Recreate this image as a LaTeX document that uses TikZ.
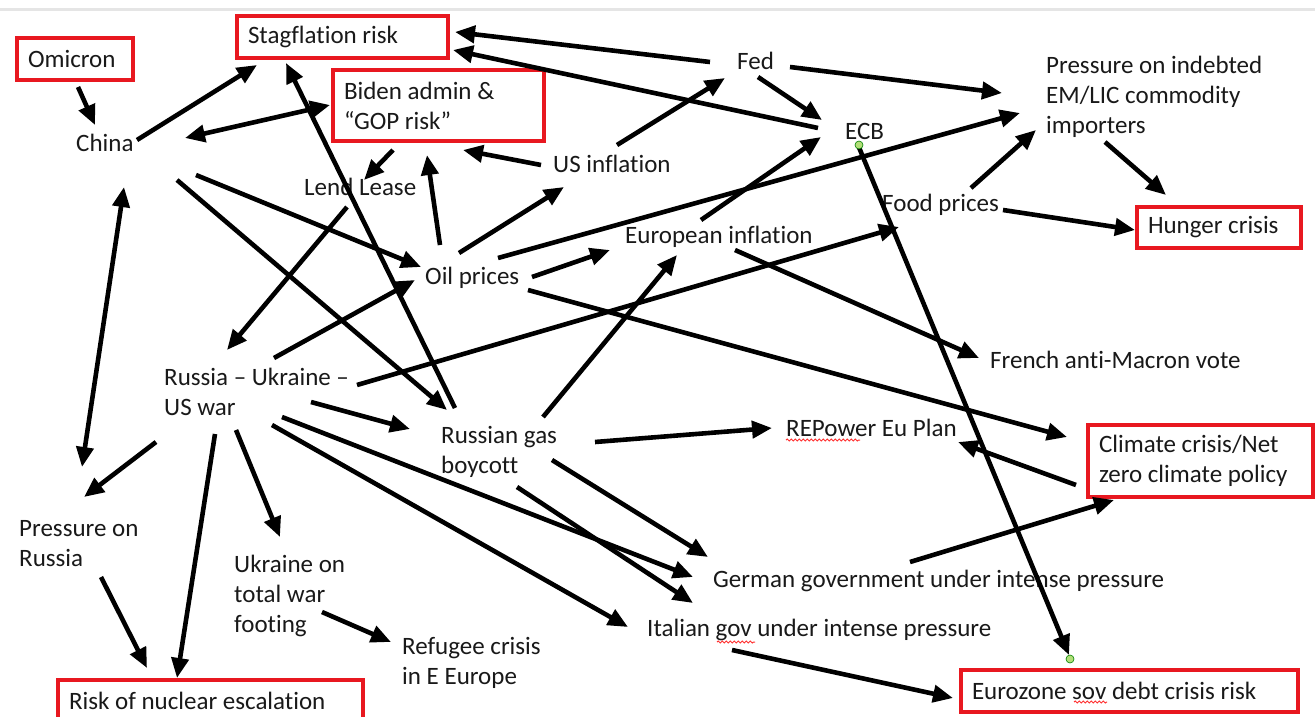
\documentclass[tikz,border=0pt]{standalone}
\usepackage{fontspec}
\setmainfont{Carlito}[Ligatures=NoCommon]
\usetikzlibrary{arrows.meta,decorations.pathmorphing}
\definecolor{boxred}{RGB}{232,24,32}
\definecolor{txt}{RGB}{25,25,25}
\definecolor{dotgreen}{RGB}{178,222,120}
\begin{document}
\begin{tikzpicture}[x=1pt,y=-1pt,
 lbl/.style={font=\fontsize{25}{30}\selectfont, text=txt, inner sep=0pt, anchor=west, align=left},
 rbox/.style={draw=boxred, line width=3.4pt, font=\fontsize{25}{30}\selectfont, text=txt, inner xsep=11pt, inner ysep=0pt, align=flush left},
 arr/.style={line width=4.6pt, -{Triangle[length=20pt,width=17pt]}},
 darr/.style={line width=4.6pt, {Triangle[length=20pt,width=17pt]}-{Triangle[length=20pt,width=17pt]}},
 squig/.style={draw=red!80, line width=1pt, decorate, decoration={snake, amplitude=1pt, segment length=4pt}},
 gdot/.style={circle, fill=dotgreen, draw=green!50!black, line width=0.6pt, minimum size=8pt, inner sep=0pt}]
\clip (0,0) rectangle (1315,717);
\fill[white] (0,0) rectangle (1315,717);
\draw[gray!20, line width=3pt] (0,10) -- (1315,10);

% boxed nodes
\node[rbox, text width=94pt, minimum height=42pt] (omicron) at (75,59) {Omicron};
\node[rbox, text width=189pt, minimum height=42pt] (stag) at (342.5,37) {Stagflation risk};
\node[rbox, text width=189pt, minimum height=71pt] (biden) at (438.5,105.5) {Biden admin \&\\“GOP risk”};
\node[rbox, text width=142pt, minimum height=41pt] (hunger) at (1219,227.5) {Hunger crisis};
\node[rbox, text width=203pt, minimum height=72pt] (climate) at (1200.5,461) {Climate crisis/Net\\zero climate policy};
\node[rbox, text width=315pt, minimum height=42pt] (eurozone) at (1129.5,691) {Eurozone sov debt crisis risk};
\node[rbox, text width=283pt, minimum height=42pt] (nuclear) at (210.5,701) {Risk of nuclear escalation};

% plain text nodes
\node[lbl] (china) at (76,143) {China};
\node[lbl] (lend) at (304,187) {Lend Lease};
\node[lbl] (usinf) at (553,164) {US inflation};
\node[lbl] (fed) at (737,61) {Fed};
\node[lbl] (ecb) at (845,131) {ECB};
\node[lbl] (press) at (1046,97) {Pressure on indebted\\EM/LIC commodity\\importers};
\node[lbl] (food) at (882,205) {Food prices};
\node[lbl] (euinf) at (625,237) {European inflation};
\node[lbl] (oil) at (425,278) {Oil prices};
\node[lbl] (french) at (990,360) {French anti-Macron vote};
\node[lbl] (russia) at (164,392) {Russia – Ukraine –\\US war};
\node[lbl] (gas) at (441,452) {Russian gas\\boycott};
\node[lbl] (repower) at (786,428) {REPower Eu Plan};
\node[lbl] (prussia) at (19,544) {Pressure on\\Russia};
\node[lbl] (ukr) at (234,596) {Ukraine on\\total war\\footing};
\node[lbl] (refugee) at (402,663) {Refugee crisis\\in E Europe};
\node[lbl] (german) at (713,581) {German government under intense pressure};
\node[lbl] (italian) at (647,630) {Italian gov under intense pressure};

% connectors
\draw[arr] ([shift={(3,28)}]omicron.center) -- ([shift={(19,-18)}]china.west);
\draw[arr] ([shift={(61,-3)}]china.west) -- ([shift={(-85.5,28)}]stag.center);
\draw[darr] ([shift={(109,-5)}]china.west) -- ([shift={(-108.5,-0.5)}]biden.center);
\draw[arr] ([shift={(-45.5,44.5)}]biden.center) -- ([shift={(60,-7)}]lend.west);
\draw[arr] ([shift={(14,-44)}]gas.west) -- ([shift={(-56.5,26)}]stag.center);
\draw[arr] ([shift={(15,-33)}]oil.west) -- ([shift={(-11.5,49.5)}]biden.center);
\draw[arr] ([shift={(-12,1)}]usinf.west) -- ([shift={(24.5,44.5)}]biden.center);
\draw[arr] ([shift={(34,-25)}]oil.west) -- ([shift={(11,23)}]usinf.west);
\draw[arr] ([shift={(120,32)}]china.west) -- ([shift={(-4,-11)}]oil.west);
\draw[arr] ([shift={(101,37)}]china.west) -- ([shift={(6,-42)}]gas.west);
\draw[arr] ([shift={(43,20)}]lend.west) -- ([shift={(63,-42)}]russia.west);
\draw[arr] ([shift={(110,-34)}]russia.west) -- ([shift={(-10,2)}]oil.west);
\draw[arr] ([shift={(107,-1)}]oil.west) -- ([shift={(-15,13)}]euinf.west);
\draw[arr] ([shift={(73,-20)}]oil.west) -- ([shift={(-26,16)}]press.west);
\draw[arr] ([shift={(103,12)}]oil.west) -- ([shift={(-133.5,-24)}]climate.center);
\draw[darr] ([shift={(48,44)}]china.west) -- ([shift={(63,-77)}]prussia.west);
\draw[arr] ([shift={(-27,1)}]fed.west) -- ([shift={(112.5,-5)}]stag.center);
\draw[arr] ([shift={(-27,-3)}]ecb.west) -- ([shift={(110.5,13)}]stag.center);
\draw[arr] ([shift={(64,-19)}]usinf.west) -- ([shift={(-12,17)}]fed.west);
\draw[arr] ([shift={(21,16)}]fed.west) -- ([shift={(-23,-11)}]ecb.west);
\draw[arr] ([shift={(53,6)}]fed.west) -- ([shift={(-44,-4)}]press.west);
\draw[arr] ([shift={(76,-17)}]euinf.west) -- ([shift={(-24,6)}]ecb.west);
\draw[arr] ([shift={(89,-17)}]food.west) -- ([shift={(-10,33)}]press.west);
\draw[arr] ([shift={(59,45)}]press.west) -- ([shift={(-53,-32.5)}]hunger.center);
\draw[arr] ([shift={(121,5)}]food.west) -- ([shift={(-84,2.5)}]hunger.center);
\draw[arr] ([shift={(193,-7)}]russia.west) -- ([shift={(17,22)}]food.west);
\draw[arr] ([shift={(110,13)}]euinf.west) -- ([shift={(-11,-2)}]french.west);
\draw[arr] ([shift={(13,14)}]ecb.west) -- ([shift={(-60.5,-36)}]eurozone.center);
\draw[arr] ([shift={(147,10)}]russia.west) -- ([shift={(-31,-23)}]gas.west);
\draw[arr] ([shift={(-8,50)}]russia.west) -- ([shift={(65,-47)}]prussia.west);
\draw[arr] ([shift={(51,42)}]russia.west) -- ([shift={(-33.5,-23)}]nuclear.center);
\draw[arr] ([shift={(72,38)}]russia.west) -- ([shift={(46,-59)}]ukr.west);
\draw[arr] ([shift={(118,25)}]russia.west) -- ([shift={(-20,-4)}]german.west);
\draw[arr] ([shift={(111,8)}]gas.west) -- ([shift={(-5,-24)}]german.west);
\draw[arr] ([shift={(76,35)}]gas.west) -- ([shift={(46,-27)}]italian.west);
\draw[arr] ([shift={(108,33)}]russia.west) -- ([shift={(-19,-3)}]italian.west);
\draw[arr] ([shift={(82,33)}]prussia.west) -- ([shift={(-63.5,-33)}]nuclear.center);
\draw[arr] ([shift={(88,16)}]ukr.west) -- ([shift={(-11,-21)}]refugee.west);
\draw[arr] ([shift={(154,-10)}]gas.west) -- ([shift={(-14,0)}]repower.west);
\draw[arr] ([shift={(-124.5,24)}]climate.center) -- ([shift={(172,14)}]repower.west);
\draw[arr] ([shift={(197,-19)}]german.west) -- ([shift={(-86.5,39)}]climate.center);
\draw[arr] ([shift={(85,20)}]italian.west) -- ([shift={(-176.5,7)}]eurozone.center);
\draw[arr] ([shift={(102,-35)}]gas.west) -- ([shift={(52,18)}]euinf.west);

% selection handles and spell-check marks
\node[gdot] (h1) at ([shift={(14,14)}]ecb.west) {};
\node[gdot] (h2) at ([shift={(-59.5,-32)}]eurozone.center) {};
\draw[squig] ([shift={(0,12)}]repower.west) -- ([shift={(74,12)}]repower.west);
\draw[squig] ([shift={(70,12)}]italian.west) -- ([shift={(108,12)}]italian.west);
\draw[squig] ([shift={(-55.5,11)}]eurozone.center) -- ([shift={(-22.5,11)}]eurozone.center);
\end{tikzpicture}
\end{document}
